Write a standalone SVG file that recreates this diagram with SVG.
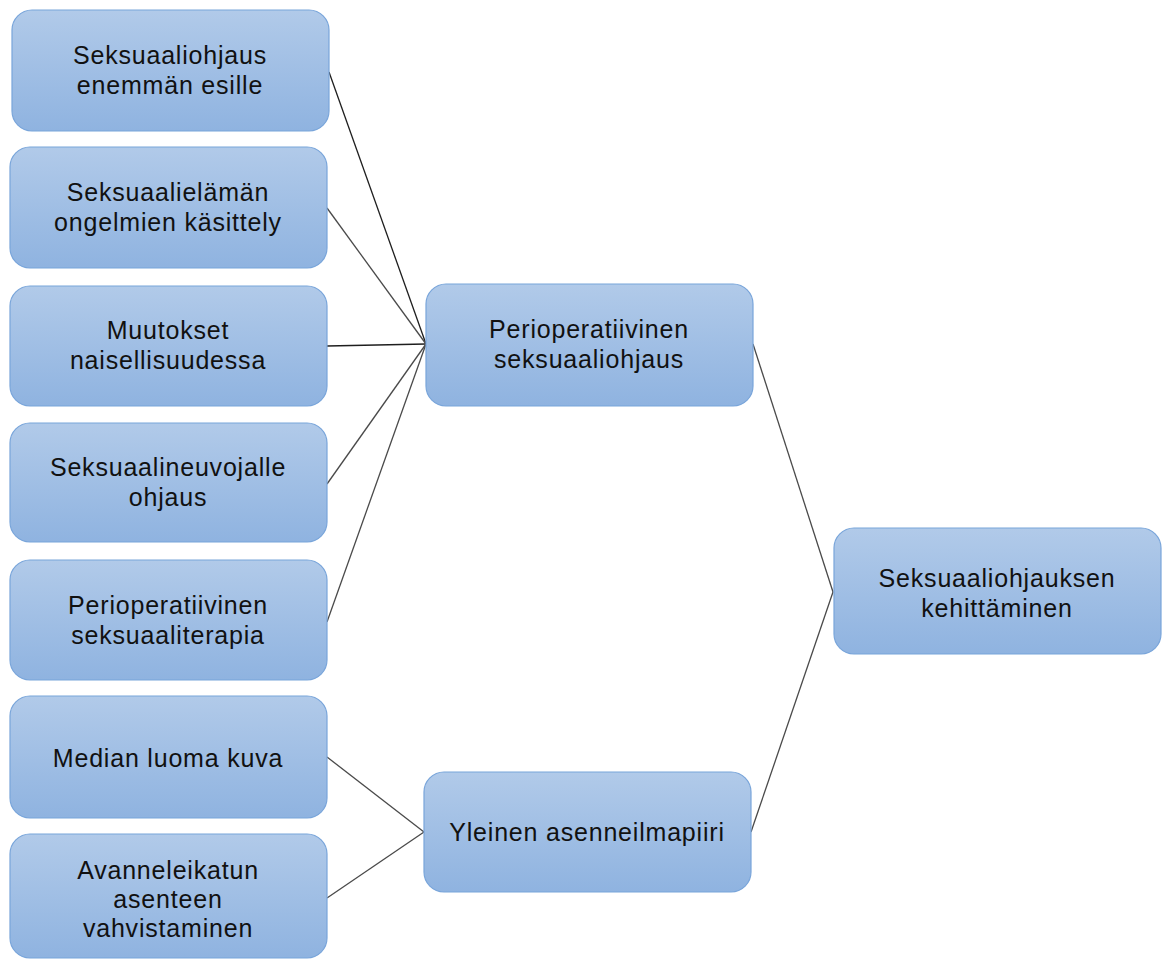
<svg xmlns="http://www.w3.org/2000/svg" width="1166" height="960" viewBox="0 0 1166 960">
  <defs>
    <linearGradient id="boxFill" x1="0" y1="0" x2="0" y2="1">
      <stop offset="0" stop-color="#b1cae9"/>
      <stop offset="1" stop-color="#8fb3e0"/>
    </linearGradient>
  </defs>
  <style>
    .box { fill: url(#boxFill); stroke: #79a5da; stroke-width: 1.2; }
    .lbl { font-family: "Liberation Sans", Arial, sans-serif; font-size: 25px; letter-spacing: 0.8px; fill: #111; text-anchor: middle; }
    .conn { stroke: #4a4a4a; stroke-width: 1.3; fill: none; }
    .conn.dark { stroke: #1e1e1e; }
  </style>
  <rect width="1166" height="960" fill="#ffffff"/>

  <!-- connectors -->
  <g id="connectors">
    <line class="conn dark" x1="329" y1="72" x2="426" y2="344"/>
    <line class="conn" x1="327" y1="208" x2="426" y2="344"/>
    <line class="conn dark" x1="327" y1="346" x2="426" y2="344"/>
    <line class="conn" x1="327" y1="484" x2="426" y2="344"/>
    <line class="conn" x1="327" y1="622" x2="426" y2="344"/>
    <line class="conn" x1="327" y1="757" x2="424" y2="832"/>
    <line class="conn" x1="327" y1="898" x2="424" y2="832"/>
    <line class="conn" x1="753" y1="344" x2="833" y2="592"/>
    <line class="conn" x1="751" y1="832" x2="833" y2="592"/>
  </g>

  <!-- left column -->
  <g id="n1">
    <rect class="box" x="12" y="10" width="317" height="121" rx="20"/>
    <text class="lbl" x="170" y="64">Seksuaaliohjaus</text>
    <text class="lbl" x="170" y="94">enemmän esille</text>
  </g>
  <g id="n2">
    <rect class="box" x="10" y="147" width="317" height="121" rx="20"/>
    <text class="lbl" x="168" y="201">Seksuaalielämän</text>
    <text class="lbl" x="168" y="231">ongelmien käsittely</text>
  </g>
  <g id="n3">
    <rect class="box" x="10" y="286" width="317" height="120" rx="20"/>
    <text class="lbl" x="168" y="339">Muutokset</text>
    <text class="lbl" x="168" y="369">naisellisuudessa</text>
  </g>
  <g id="n4">
    <rect class="box" x="10" y="423" width="317" height="119" rx="20"/>
    <text class="lbl" x="168" y="476">Seksuaalineuvojalle</text>
    <text class="lbl" x="168" y="506">ohjaus</text>
  </g>
  <g id="n5">
    <rect class="box" x="10" y="560" width="317" height="120" rx="20"/>
    <text class="lbl" x="168" y="614">Perioperatiivinen</text>
    <text class="lbl" x="168" y="644">seksuaaliterapia</text>
  </g>
  <g id="n6">
    <rect class="box" x="10" y="696" width="317" height="122" rx="20"/>
    <text class="lbl" x="168" y="767">Median luoma kuva</text>
  </g>
  <g id="n7">
    <rect class="box" x="10" y="834" width="317" height="124" rx="20"/>
    <text class="lbl" x="168" y="879">Avanneleikatun</text>
    <text class="lbl" x="168" y="908">asenteen</text>
    <text class="lbl" x="168" y="937">vahvistaminen</text>
  </g>

  <!-- middle column -->
  <g id="n8">
    <rect class="box" x="426" y="284" width="327" height="122" rx="20"/>
    <text class="lbl" x="589" y="338">Perioperatiivinen</text>
    <text class="lbl" x="589" y="368">seksuaaliohjaus</text>
  </g>
  <g id="n9">
    <rect class="box" x="424" y="772" width="327" height="120" rx="20"/>
    <text class="lbl" x="587" y="841">Yleinen asenneilmapiiri</text>
  </g>

  <!-- right column -->
  <g id="n10">
    <rect class="box" x="834" y="528" width="327" height="126" rx="20"/>
    <text class="lbl" x="997" y="587">Seksuaaliohjauksen</text>
    <text class="lbl" x="997" y="617">kehittäminen</text>
  </g>
</svg>
